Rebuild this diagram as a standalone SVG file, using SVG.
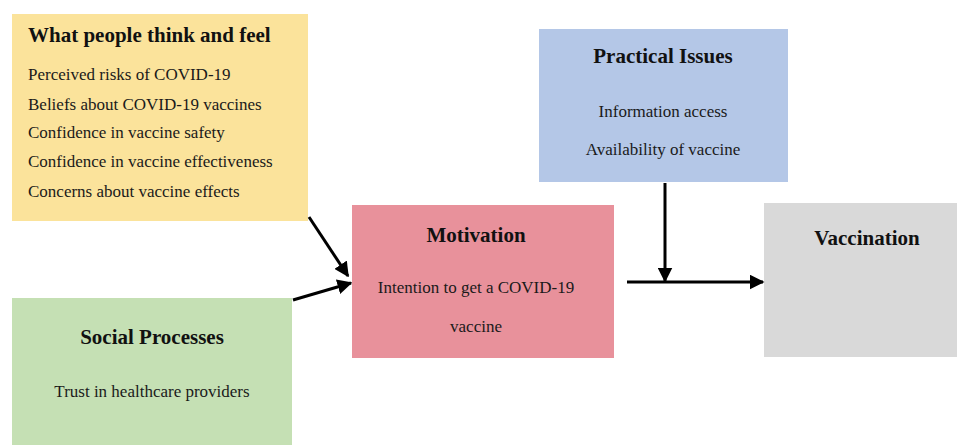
<svg xmlns="http://www.w3.org/2000/svg" width="957" height="445" viewBox="0 0 957 445">
<defs>
<style>
.t{font-family:"Liberation Serif","Times New Roman",serif;font-size:17px;fill:#1a1a1a}
.h{font-family:"Liberation Serif","Times New Roman",serif;font-size:21px;font-weight:bold;fill:#111}
.c{text-anchor:middle}
.ln{stroke:#000;stroke-width:3;fill:none;marker-end:url(#ah)}
</style>
<marker id="ah" viewBox="0 0 10 10" refX="9" refY="5" markerWidth="5" markerHeight="5" orient="auto" markerUnits="strokeWidth">
<path d="M0,0 L10,5 L0,10 z" fill="#000"/>
</marker>
</defs>
<rect width="957" height="445" fill="#fff"/>
<g id="think">
<rect x="12" y="14" width="296" height="207" fill="#fbe39b"/>
<text class="h" x="28" y="42">What people think and feel</text>
<text class="t" x="28" y="80">Perceived risks of COVID-19</text>
<text class="t" x="28" y="110">Beliefs about COVID-19 vaccines</text>
<text class="t" x="28" y="138">Confidence in vaccine safety</text>
<text class="t" x="28" y="167">Confidence in vaccine effectiveness</text>
<text class="t" x="28" y="197">Concerns about vaccine effects</text>
</g>
<g id="social">
<rect x="12" y="298" width="280" height="150" fill="#c5e0b4"/>
<text class="h c" x="152" y="344">Social Processes</text>
<text class="t c" x="152" y="397">Trust in healthcare providers</text>
</g>
<g id="motivation">
<rect x="352" y="205" width="262" height="153" fill="#e8919b"/>
<text class="h c" x="476" y="242">Motivation</text>
<text class="t c" x="476" y="293">Intention to get a COVID-19</text>
<text class="t c" x="476" y="332">vaccine</text>
</g>
<g id="practical">
<rect x="539" y="29" width="249" height="153" fill="#b4c7e7"/>
<text class="h c" x="663" y="63">Practical Issues</text>
<text class="t c" x="663" y="117">Information access</text>
<text class="t c" x="663" y="155">Availability of vaccine</text>
</g>
<g id="vaccination">
<rect x="764" y="203" width="200" height="154" fill="#d9d9d9"/>
<text class="h c" x="867" y="245">Vaccination</text>
</g>
<g id="connectors">
<line class="ln" x1="309" y1="217" x2="348" y2="276"/>
<line class="ln" x1="293" y1="300" x2="351" y2="283"/>
<line class="ln" x1="627" y1="282" x2="763" y2="282"/>
<line class="ln" x1="665" y1="183" x2="665" y2="281"/>
</g>
</svg>
